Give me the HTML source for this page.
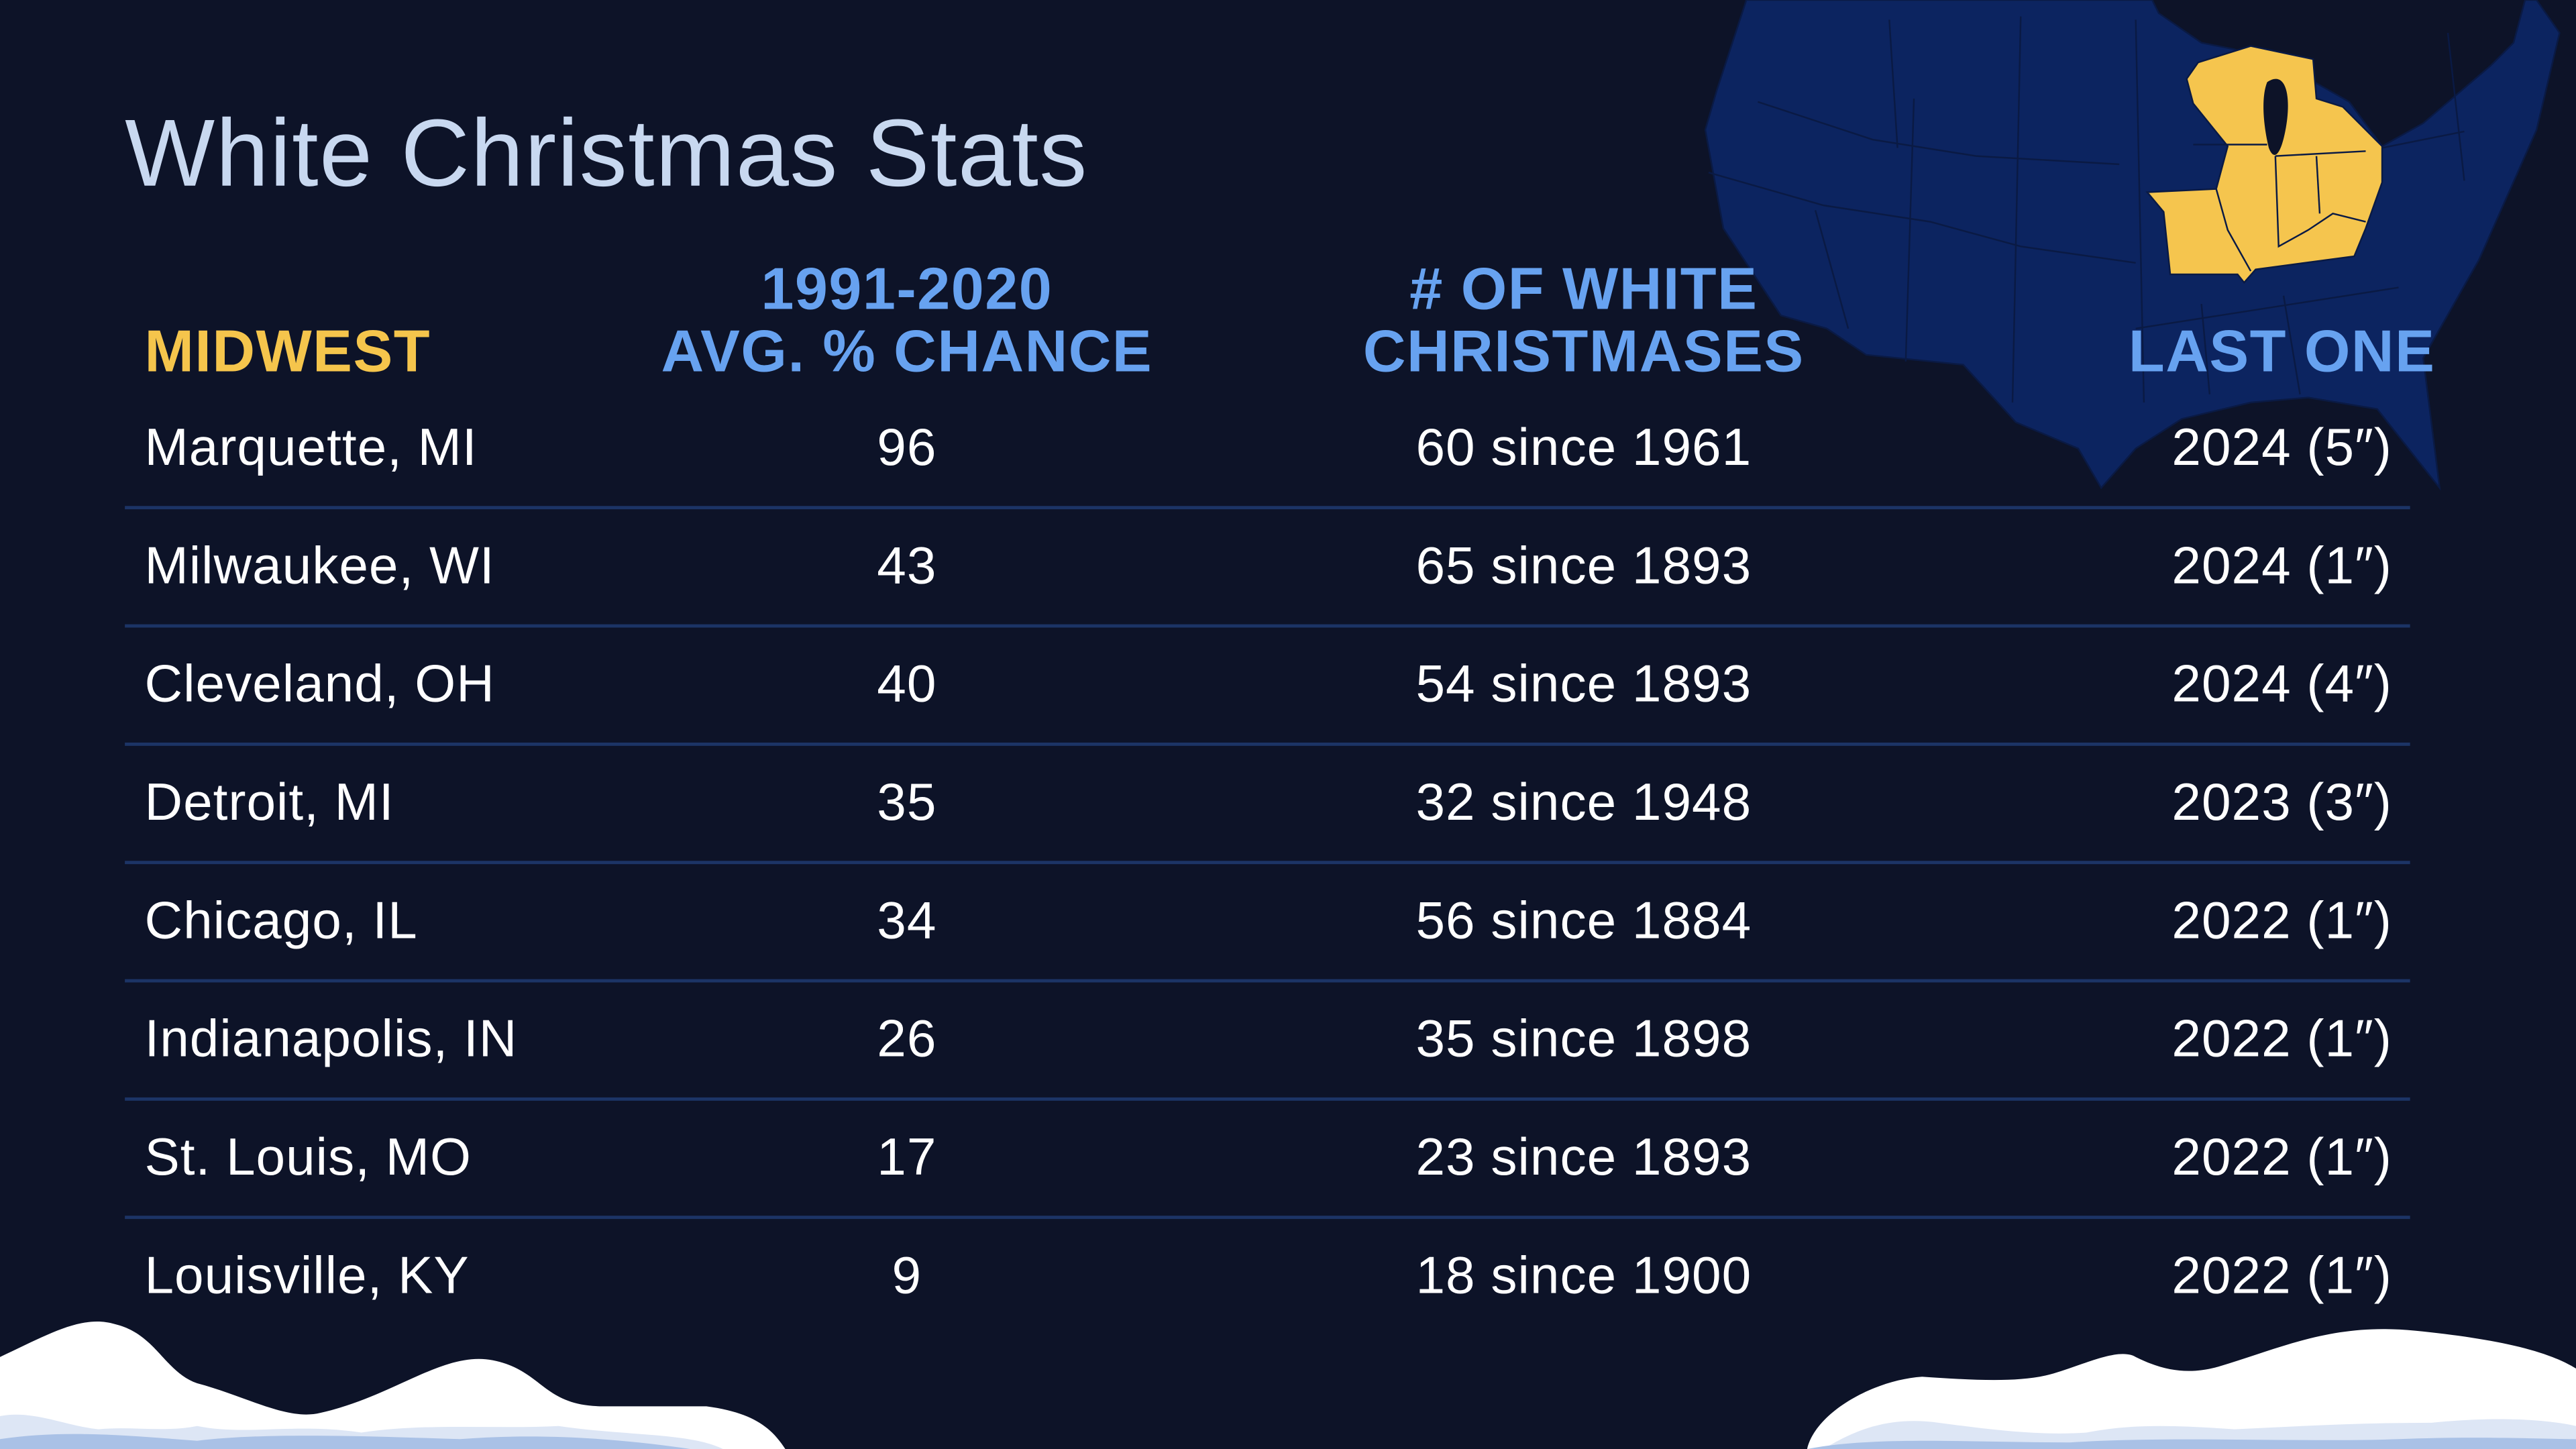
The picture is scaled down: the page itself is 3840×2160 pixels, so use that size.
<!DOCTYPE html>
<html><head><meta charset="utf-8"><style>
html,body{margin:0;padding:0;background:#0d1328;}
svg{display:block}
text{font-family:"Liberation Sans",sans-serif}
.h{fill:#67a2f0;font-weight:bold;font-size:36px;letter-spacing:0.6px}
.r{fill:#ffffff;font-size:32px;letter-spacing:0.4px}
</style></head><body>
<svg width="3840" height="2160" viewBox="0 0 1568 882" xmlns="http://www.w3.org/2000/svg">
<rect width="1568" height="882" fill="#0d1328"/>
<!-- map -->
<polygon fill="#0c2460" stroke="#0a1a44" stroke-width="1" points="1063,0 1310,0 1314,8 1340,26 1360,30 1400,45 1430,62 1450,89 1475,75 1516,40 1530,26 1537,0 1544,0 1558,20 1544,79 1509,158 1475,218 1485,297 1447,249 1405,242 1370,245 1328,255 1300,273 1279,297 1265,273 1227,257 1195,222 1136,216 1112,200 1084,192 1049,139 1038,79 1045,55"/>
<g stroke="#0a1a44" stroke-width="1" fill="none">
<path d="M1070,62 L1140,85 L1203,95 L1290,100"/>
<path d="M1040,105 L1110,125 L1175,135 L1230,150 L1300,160"/>
<path d="M1105,128 L1125,200"/>
<path d="M1165,60 L1160,220"/>
<path d="M1230,10 L1225,245"/>
<path d="M1300,12 L1305,245"/>
<path d="M1150,12 L1155,90"/>
<path d="M1300,200 L1460,175"/>
<path d="M1340,185 L1345,240"/>
<path d="M1390,180 L1400,240"/>
<path d="M1450,90 L1500,80"/>
<path d="M1490,20 L1500,110"/>
</g>
<polygon fill="#f5c54e" stroke="#0a1a44" stroke-width="1" points="1338,38 1370,28 1408,36 1410,60 1426,65 1450,89 1450,111 1440,139 1433,156 1373,164 1366,172 1362,167 1321,167 1317,129 1307,117 1349,115 1356,89 1335,63 1331,48"/>
<g stroke="#0a1a44" stroke-width="1" fill="none">
<path d="M1335,88 L1380,88"/><path d="M1349,115 L1356,140 L1370,165"/>
<path d="M1385,95 L1387,150 L1405,140 L1420,130 L1440,135"/>
<path d="M1410,95 L1412,130"/><path d="M1385,95 L1440,92"/>
</g>
<path d="M1380,50 C1392,42 1395,60 1391,80 C1388,95 1384,98 1381,90 C1378,78 1376,60 1380,50 Z" fill="#0d1328"/>
<!-- title -->
<text x="76" y="113" font-size="58" fill="#c8d8f0" letter-spacing="0.6">White Christmas Stats</text>
<!-- headers -->
<text x="88" y="226" class="h" style="fill:#f5c54c">MIDWEST</text>
<text x="552" y="188" class="h" text-anchor="middle">1991-2020</text>
<text x="552" y="226" class="h" text-anchor="middle">AVG. % CHANCE</text>
<text x="964" y="188" class="h" text-anchor="middle"># OF WHITE</text>
<text x="964" y="226" class="h" text-anchor="middle">CHRISTMASES</text>
<text x="1389" y="226" class="h" text-anchor="middle">LAST ONE</text>
<!-- separators -->
<g fill="#1c3466">
<rect x="76" y="308" width="1391" height="2"/>
<rect x="76" y="380" width="1391" height="2"/>
<rect x="76" y="452" width="1391" height="2"/>
<rect x="76" y="524" width="1391" height="2"/>
<rect x="76" y="596" width="1391" height="2"/>
<rect x="76" y="668" width="1391" height="2"/>
<rect x="76" y="740" width="1391" height="2"/>
</g>
<g>
<text class="r" x="88" y="283">Marquette, MI</text><text class="r" x="552" y="283" text-anchor="middle">96</text><text class="r" x="964" y="283" text-anchor="middle">60 since 1961</text><text class="r" x="1389" y="283" text-anchor="middle">2024 (5″)</text>
<text class="r" x="88" y="355">Milwaukee, WI</text><text class="r" x="552" y="355" text-anchor="middle">43</text><text class="r" x="964" y="355" text-anchor="middle">65 since 1893</text><text class="r" x="1389" y="355" text-anchor="middle">2024 (1″)</text>
<text class="r" x="88" y="427">Cleveland, OH</text><text class="r" x="552" y="427" text-anchor="middle">40</text><text class="r" x="964" y="427" text-anchor="middle">54 since 1893</text><text class="r" x="1389" y="427" text-anchor="middle">2024 (4″)</text>
<text class="r" x="88" y="499">Detroit, MI</text><text class="r" x="552" y="499" text-anchor="middle">35</text><text class="r" x="964" y="499" text-anchor="middle">32 since 1948</text><text class="r" x="1389" y="499" text-anchor="middle">2023 (3″)</text>
<text class="r" x="88" y="571">Chicago, IL</text><text class="r" x="552" y="571" text-anchor="middle">34</text><text class="r" x="964" y="571" text-anchor="middle">56 since 1884</text><text class="r" x="1389" y="571" text-anchor="middle">2022 (1″)</text>
<text class="r" x="88" y="643">Indianapolis, IN</text><text class="r" x="552" y="643" text-anchor="middle">26</text><text class="r" x="964" y="643" text-anchor="middle">35 since 1898</text><text class="r" x="1389" y="643" text-anchor="middle">2022 (1″)</text>
<text class="r" x="88" y="715">St. Louis, MO</text><text class="r" x="552" y="715" text-anchor="middle">17</text><text class="r" x="964" y="715" text-anchor="middle">23 since 1893</text><text class="r" x="1389" y="715" text-anchor="middle">2022 (1″)</text>
<text class="r" x="88" y="787">Louisville, KY</text><text class="r" x="552" y="787" text-anchor="middle">9</text><text class="r" x="964" y="787" text-anchor="middle">18 since 1900</text><text class="r" x="1389" y="787" text-anchor="middle">2022 (1″)</text>
</g>
<!-- snow -->
<path fill="#ffffff" d="M0,826 C30,812 50,800 70,806 C95,812 100,835 120,842 C150,850 175,865 195,860 C240,850 270,822 300,828 C330,834 330,855 365,856 L430,856 C460,860 470,870 478,882 L0,882 Z"/>
<path fill="#dde6f5" d="M0,862 C20,858 40,868 60,870 C80,868 100,872 120,868 C150,874 180,866 220,872 C260,866 300,870 340,868 C380,874 420,872 440,882 L0,882 Z"/>
<path fill="#a9c1e6" d="M0,876 C40,870 80,874 120,877 C160,872 220,874 280,876 C330,872 380,876 420,882 L0,882 Z"/>
<path fill="#ffffff" d="M1100,882 C1105,860 1140,840 1170,838 C1200,840 1230,842 1250,836 C1270,830 1290,820 1300,826 C1320,836 1335,836 1350,832 C1390,820 1420,805 1470,810 C1520,815 1550,822 1568,833 L1568,882 Z"/>
<path fill="#dde6f5" d="M1110,882 C1130,870 1150,862 1180,866 C1210,870 1240,874 1270,872 C1300,866 1330,868 1360,870 C1400,868 1440,866 1480,866 C1520,862 1550,864 1568,868 L1568,882 Z"/>
<path fill="#a9c1e6" d="M1100,882 C1140,874 1200,878 1260,878 C1320,874 1400,878 1460,876 C1510,874 1550,876 1568,876 L1568,882 Z"/>
</svg>
</body></html>
